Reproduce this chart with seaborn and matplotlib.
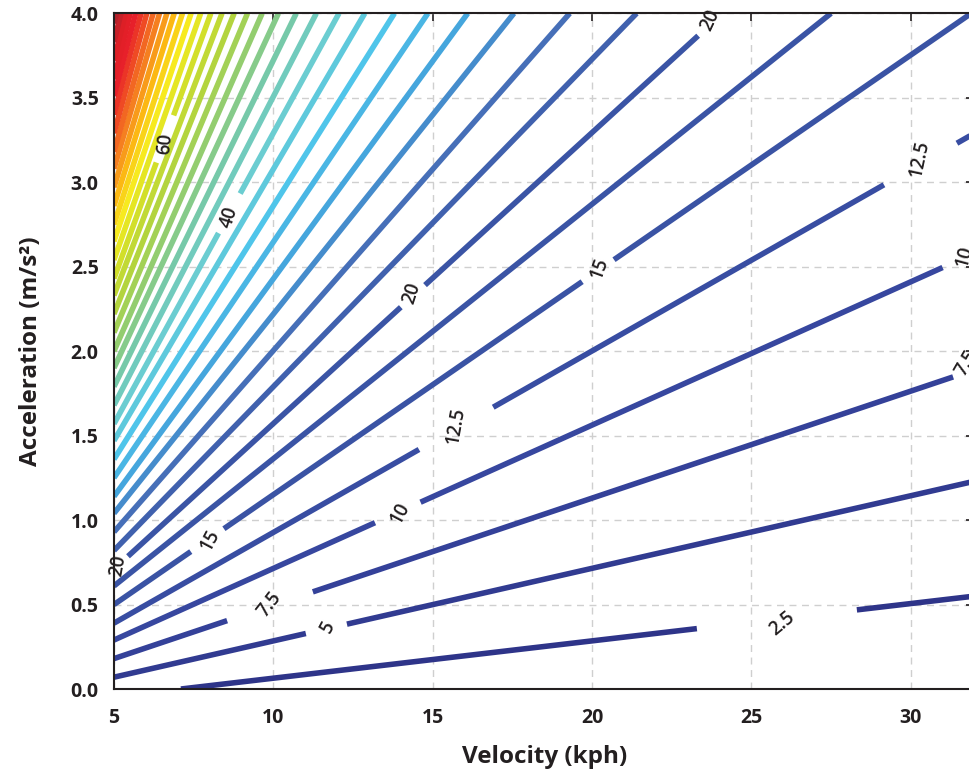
import numpy as np
import pandas as pd
import seaborn as sns
import matplotlib.pyplot as plt
from matplotlib.colors import LinearSegmentedColormap, Normalize

# contour levels and where each level line enters / leaves the plotted window
levels = [2.5, 5, 7.5, 10, 12.5, 15, 17.5, 20, 22.5, 25, 27.5, 30, 32.5, 35, 37.5,
          40, 42.5, 45, 47.5, 50, 52.5, 55, 57.5, 60, 62.5, 65, 67.5, 70, 72.5,
          75, 77.5, 80, 82.5, 85, 87.5, 90, 92.5, 95]
start_velocity = [7.1] + [5.0] * 37
start_accel = [0.0, 0.07, 0.18, 0.29, 0.39, 0.50, 0.61, 0.71, 0.82, 0.93, 1.04, 1.14,
               1.25, 1.36, 1.47, 1.57, 1.68, 1.79, 1.90, 2.00, 2.11, 2.22, 2.33, 2.43,
               2.54, 2.65, 2.75, 2.86, 2.97, 3.08, 3.18, 3.29, 3.40, 3.51, 3.61, 3.72,
               3.83, 3.94]
end_velocity = [32, 32, 32, 32, 32, 31.9, 27.5, 24.1, 21.4, 19.3, 17.55, 16.1, 14.85,
                13.8, 12.87, 12.06, 11.35, 10.72, 10.16, 9.65, 9.19, 8.77, 8.39, 8.04,
                7.72, 7.42, 7.15, 6.89, 6.66, 6.43, 6.23, 6.03, 5.85, 5.68, 5.51, 5.36,
                5.22, 5.08]
end_accel = [0.55, 1.23, 1.89, 2.58, 3.29] + [4.0] * 33

# inline labels: level, (velocity, accel) centre, rotation, gap cut out of the line
label_level = [2.5, 5, 7.5, 10, 12.5, 15, 15, 20, 20, 20, 40, 60, 12.5, 10, 7.5]
label_pos = [(25.95, 0.39), (11.71, 0.37), (9.89, 0.50), (13.97, 1.04), (15.73, 1.56),
             (8.01, 0.88), (20.25, 2.49), (5.13, 0.73), (14.34, 2.34), (23.70, 3.96),
             (8.62, 2.79), (6.60, 3.23), (30.29, 3.14), (31.70, 2.56), (31.75, 1.93)]
label_rot = [40, 62, 52, 62, 80, 62, 70, 80, 72, 65, 72, 84, 78, 75, 60]
label_gap = [(23.29, 28.31), (11.02, 12.31), (8.55, 11.24), (13.19, 14.62),
             (14.57, 16.90), (7.41, 8.45), (19.69, 20.69), (5.0, 5.44), (14.0, 14.76),
             (23.33, 99), (8.28, 8.96), (6.33, 6.87), (29.16, 31.45), (31.0, 99),
             (31.33, 99)]

rows = []
seg = 0
for i, lev in enumerate(levels):
    v0, v1 = start_velocity[i], end_velocity[i]
    cuts = sorted(g for l, g in zip(label_level, label_gap) if l == lev)
    pieces = []
    cur = v0
    for g0, g1 in cuts:
        if g0 > cur:
            pieces.append((cur, min(g0, v1)))
        cur = max(cur, g1)
    if cur < v1:
        pieces.append((cur, v1))
    for p0, p1 in pieces:
        vs = np.array([p0, p1])
        acc = np.interp(vs, [v0, v1], [start_accel[i], end_accel[i]])
        for v, a in zip(vs, acc):
            rows.append({"velocity": v, "accel": a, "level": lev, "seg": seg})
        seg += 1
df = pd.DataFrame(rows)

sns.set_style("white")
plt.rcParams['font.family'] = ['Open Sans', 'DejaVu Sans']

stops = [(0, "#2B2E83"), (10, "#3748A0"), (15, "#3A53A4"), (20, "#3A54A5"),
         (25, "#466FB8"), (30, "#45A8DF"), (35, "#4FC5EA"), (40, "#6CCDD0"),
         (45, "#76C9AA"), (50, "#93CD6E"), (55, "#B2D43F"), (60, "#D2DF2A"),
         (65, "#F7EC1F"), (70, "#FCB813"), (75, "#F58220"), (80, "#EF4B24"),
         (85, "#E8202A"), (90, "#DE1F26"), (95, "#B3202A")]
cmap = LinearSegmentedColormap.from_list("speedjet", [(p / 95, c) for p, c in stops])

fig = plt.figure(figsize=(9.7, 7.74), dpi=100)
ax = fig.add_axes([0.1175, 0.1098, 0.8871, 0.873])

sns.lineplot(data=df, x="velocity", y="accel", hue="level", units="seg",
             estimator=None, sort=False, palette=cmap, hue_norm=Normalize(0, 95),
             legend=False, linewidth=4.0, ax=ax, solid_capstyle="butt")

for lev, txt_pos, rot in zip(label_level, label_pos, label_rot):
    ax.text(txt_pos[0], txt_pos[1], f"{lev:g}", rotation=rot, ha="center", va="center",
            fontsize=13.5, fontweight="semibold", color="#231F20", rotation_mode="anchor")

ax.set_xlim(5, 32)
ax.set_ylim(0, 4)
ax.set_xticks([5, 10, 15, 20, 25, 30])
ax.set_yticks(np.arange(0, 4.01, 0.5))
ax.set_yticklabels([f"{t:.1f}" for t in np.arange(0, 4.01, 0.5)])
ax.grid(True, color="#cfcfcf", linestyle=(0, (5, 4)), linewidth=1.0)
ax.set_axisbelow(True)
ax.tick_params(direction="in", length=6, width=1.2, top=True, right=True,
               labelsize=14, colors="#231F20")
ax.tick_params(axis="x", pad=14)
ax.tick_params(axis="y", pad=11)
for lab in ax.get_xticklabels() + ax.get_yticklabels():
    lab.set_fontweight("bold")
for sp in ax.spines.values():
    sp.set_color("#231F20")
    sp.set_linewidth(1.5)

ax.set_xlabel("Velocity (kph)", fontsize=17.5, fontweight="bold", color="#231F20")
ax.set_ylabel("Acceleration (m/s²)", fontsize=17.5, fontweight="bold", color="#231F20")
ax.xaxis.set_label_coords(0.5, -0.083)
ax.yaxis.set_label_coords(-0.083, 0.5)

fig.savefig("out.png", dpi=100)
